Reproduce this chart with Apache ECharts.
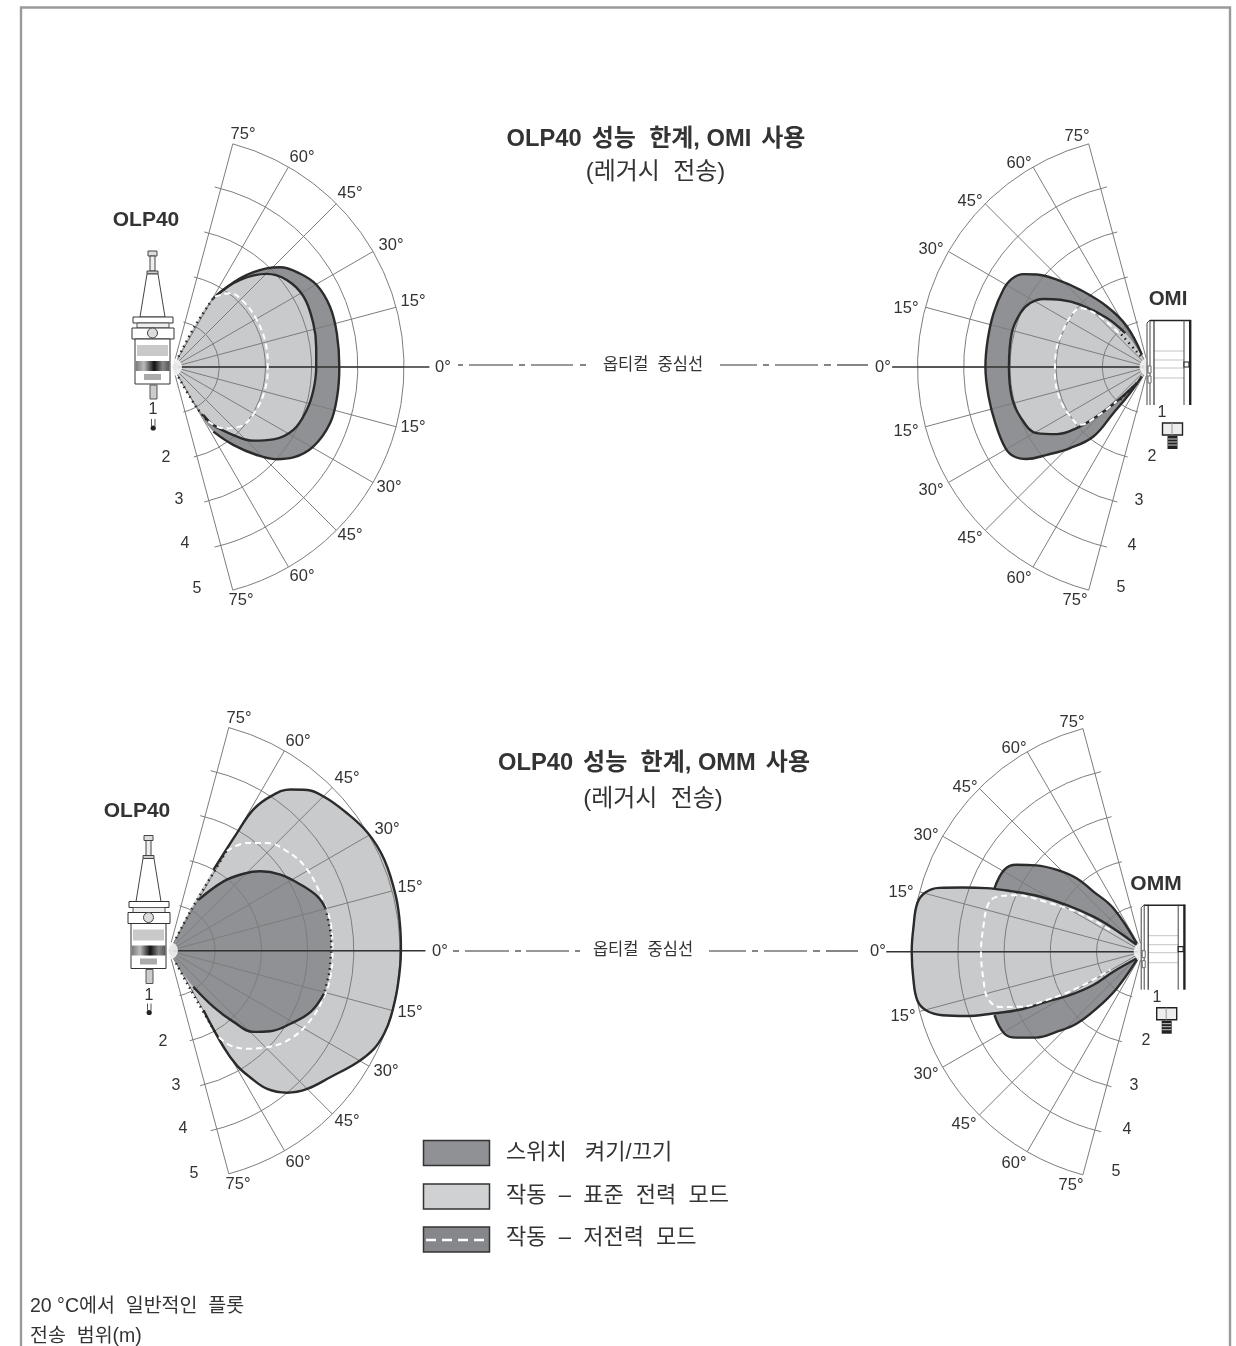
<!DOCTYPE html>
<html><head><meta charset="utf-8">
<style>html,body{margin:0;padding:0;background:#fff}#c{width:1236px;height:1346px}</style>
<script src="https://cdn.jsdelivr.net/npm/echarts@6/dist/echarts.min.js"></script>
</head><body><div id="c"></div>
<script>
// ---- values: [range in m, angle in degrees, + = upper half] ----
const ringLabels = ['1','2','3','4','5'];
const angleLabels = [75,60,45,30,15,15,30,45,60,75];
const angleStep = 15, angleLimit = 75, rangeMax = 5;

const omiLeftSwitch = [[0.2,62],[1.0,62],[1.72,59.6],[2.41,52.9],[2.945,46.5],[3.165,43],[3.41,36.4],[3.58,29.7],[3.64,21],[3.62,11.6],[3.6,0],[3.61,-10.2],[3.61,-19.7],[3.49,-29.6],[3.26,-36.9],[3.0,-41.7],[2.63,-46.4],[2.13,-52.3],[1.65,-58],[1.0,-60],[0.2,-62]];
const omiLeftStd = [[0.2,62],[1.0,62],[1.82,58.8],[2.38,52.4],[2.86,44.8],[3.1,37.4],[3.21,28.4],[3.18,17.3],[3.13,8.1],[3.1,0],[3.08,-9.3],[3.04,-17.8],[2.94,-27.6],[2.68,-35.8],[2.36,-42.5],[1.97,-48.4],[1.53,-55.2],[1.23,-57.7],[0.2,-62]];
const omiLeftLow = [[1.77,59.2],[2.02,52.3],[2.08,42.9],[2.08,29.3],[2.07,14.3],[2.05,0],[2.05,-14],[2.02,-28.6],[1.94,-41.7],[1.72,-50.6],[1.36,-57.6]];
const omiLeftEdges = [[[0.25,62],[1.0,62],[1.77,59.6]],[[0.25,-62],[1.0,-60],[1.36,-57.6]]];

const omiRightSwitch = [[0.3,61.6],[1.0,61.9],[1.59,55.5],[2.23,48.5],[2.74,43.6],[3.14,39.6],[3.37,36.6],[3.52,32.8],[3.56,28.1],[3.55,19.2],[3.53,9.6],[3.53,0],[3.52,-10.4],[3.53,-20],[3.56,-29.5],[3.5,-33.5],[3.3,-37.1],[2.91,-40.8],[2.44,-46],[1.92,-51.6],[1.25,-52.7],[0.69,-54.8],[0.25,-54.5]];
const omiRightStd = [[0.3,60],[0.89,55.5],[1.39,49.6],[2.0,42.4],[2.4,37.3],[2.71,32.9],[2.91,28.4],[3.01,22.8],[3.05,14],[3.02,0],[3.03,-12.1],[2.98,-21],[2.81,-30.6],[2.46,-36.2],[2.04,-40.4],[1.55,-43.7],[1.01,-47.3],[0.43,-53.9]];
const omiRightLow = [[0.98,48.6],[1.95,40.8],[2.01,34.3],[2.01,21.4],[2.03,8.6],[2.03,-3.7],[2.04,-20.3],[2.0,-32.2],[1.94,-40.2],[1.55,-43.7],[1.01,-47.3]];
const omiRightEdges = [[[0.29,54],[0.98,50]],[[0.43,-53.9],[1.01,-49]]];

const ommLeftStd = [[0.31,60.4],[0.99,62.7],[2.0,61.2],[2.94,60],[3.57,59.1],[4.03,56.4],[4.37,53],[4.59,49.3],[4.73,44.8],[4.85,38.6],[5.0,30.7],[5.06,22.9],[5.05,13.4],[5.03,5.9],[5.02,0],[5.01,-9],[5.01,-16.6],[4.99,-21.1],[4.92,-25.5],[4.74,-30.6],[4.44,-38],[4.23,-45],[4.0,-50.2],[3.67,-54.6],[3.26,-57.3],[2.89,-59.4],[2.4,-60.5],[1.49,-59.9],[0.31,-61]];
const ommLeftSwitch = [[0.31,60.4],[1.27,59.9],[1.91,51.8],[2.32,45.9],[2.62,41],[2.92,34.3],[3.19,26.6],[3.42,20.1],[3.51,15.2],[3.52,6.1],[3.51,0],[3.5,-8.1],[3.48,-15.5],[3.34,-23.4],[3.07,-31],[2.8,-38.5],[2.54,-43.8],[2.08,-47.8],[1.55,-51.6],[0.94,-56],[0.31,-61]];
const ommLeftLow = [[2.49,59.8],[2.88,54.1],[3.15,47.7],[3.34,40.1],[3.47,30.4],[3.51,17],[3.55,8.4],[3.54,0],[3.54,-9.2],[3.5,-16.6],[3.41,-26.2],[3.25,-35.9],[2.98,-44.5],[2.71,-51.5],[2.44,-57.1],[2.11,-60.5]];
const ommLeftEdges = [[[0.31,60.4],[1.0,61.5],[2.49,60]],[[0.31,-61],[1.0,-61],[2.11,-60.5]]];

const ommRightSwitch = [[0.22,54],[1.14,55.9],[1.69,50.6],[2.14,48],[2.58,43.5],[2.97,39],[3.32,34.5],[3.48,30.7],[3.49,23.2],[3.3,0],[3.49,-23.2],[3.48,-30.7],[3.31,-34.2],[2.96,-38.9],[2.55,-42.9],[2.12,-47.4],[1.59,-50.9],[0.98,-54.7],[0.22,-54]];
const ommRightStd = [[0.2,48],[0.81,38.5],[1.31,35.4],[1.94,31.5],[2.53,28.2],[3.1,24.9],[3.66,22.1],[4.14,19.6],[4.62,17.4],[4.87,15.3],[4.99,12.2],[4.99,6.2],[5,0],[5,-7.1],[4.99,-12.2],[4.86,-15.1],[4.55,-17.6],[4.07,-20],[3.51,-22.4],[2.95,-25.2],[2.35,-27.5],[1.84,-30.8],[1.29,-34],[0.77,-34.3],[0.2,-48]];
const ommRightLow = [[0.85,33.6],[1.6,31.4],[2.35,27.2],[3.0,24],[3.39,20.4],[3.5,16.8],[3.49,9],[3.5,0],[3.5,-10.1],[3.5,-16.8],[3.32,-21.1],[2.92,-24.1],[2.34,-26.7],[1.56,-29.2],[0.8,-29]];

const titleTop = ['OLP40','성능  한계',', OMI','사용','(레거시  전송)'];
const titleBottom = ['OLP40','성능  한계',', OMM','사용','(레거시  전송)'];
const legendLabels = ['스위치   켜기/끄기','작동  –  표준  전력  모드','작동  –  저전력  모드'];
const centerLineLabel = '옵티컬  중심선';
const footerLines = ['20 °C에서  일반적인  플롯','전송  범위(m)'];

// ---- styles and layout ----
const FONT = '"Liberation Sans","Noto Sans CJK KR",sans-serif';
const DARK = '#8f9195', LIGHT = '#c8cacc', INK = '#2b2b2b', GRID = '#7d7d7d', TXT = '#333';
const UNIT = 46.2, DATA_MAX = 6;
const charts = [
  {c:[173,367], right:false},
  {c:[1148.5,367], right:true},
  {c:[169,950.7], right:false},
  {c:[1142.7,951.7], right:true}
];

const polar = [], angleAxis = [], radiusAxis = [], series = [];
const bare = {axisLine:{show:false}, axisTick:{show:false}, axisLabel:{show:false}};
charts.forEach((ch,i)=>{
  const [sa,ea] = ch.right ? [180-angleLimit,180+angleLimit] : [angleLimit,-angleLimit];
  const [sb,eb] = ch.right ? [180-77,180+77] : [77,-77];
  const cw = !ch.right;
  // 3i: spokes + outer ring
  polar.push({center:ch.c, radius:UNIT*rangeMax});
  angleAxis.push({polarIndex:3*i, type:'value', min:-angleLimit, max:angleLimit, interval:angleStep,
    startAngle:sa, endAngle:ea, clockwise:cw, z:3, ...bare,
    splitLine:{show:true, lineStyle:{color:GRID,width:1}}});
  radiusAxis.push({polarIndex:3*i, type:'value', min:0, max:rangeMax, interval:rangeMax, z:3, ...bare,
    splitLine:{show:true, lineStyle:{color:GRID,width:1}}});
  // 3i+1: inner rings, overshooting the last spoke a little
  polar.push({center:ch.c, radius:UNIT*(rangeMax-1)});
  angleAxis.push({polarIndex:3*i+1, type:'value', min:-77, max:77, interval:154,
    startAngle:sb, endAngle:eb, clockwise:cw, z:3, ...bare, splitLine:{show:false}});
  radiusAxis.push({polarIndex:3*i+1, type:'value', min:0, max:rangeMax-1, interval:1, z:3, ...bare,
    splitLine:{show:true, lineStyle:{color:GRID,width:1}}});
  // 3i+2: same scale, room for the data beyond 5 m
  polar.push({center:ch.c, radius:UNIT*DATA_MAX});
  angleAxis.push({polarIndex:3*i+2, type:'value', min:-angleLimit, max:angleLimit, interval:150,
    startAngle:sa, endAngle:ea, clockwise:cw, z:0, ...bare, splitLine:{show:false}});
  radiusAxis.push({polarIndex:3*i+2, type:'value', min:0, max:DATA_MAX, interval:DATA_MAX, z:0, ...bare, splitLine:{show:false}});
});

const toPolar = d => d.map(([r,a])=>[r,-a]);
const P = i => 3*i+2;
const base = (p,d)=>({type:'line', coordinateSystem:'polar', polarIndex:P(p), data:toPolar(d),
  showSymbol:false, symbol:'none', clip:false, silent:true, animation:false, smooth:0.4});
function fill(p,d,color,z=1){ series.push({...base(p,d), z, lineStyle:{width:0,opacity:0}, areaStyle:{color,opacity:1}}); }
function stroke(p,d,w=2.4,z=4){ series.push({...base(p,d), z, lineStyle:{color:INK,width:w}}); }
function low(p,d,z=4){ series.push({...base(p,d), z, lineStyle:{color:'#fff',width:2,type:[6,4]}}); }
function dots(p,d,z=4){ series.push({...base(p,d), smooth:0.2, z, lineStyle:{color:'#222',width:2.4,type:[1.5,4]}}); }
function axisZero(p){ series.push({...base(p,[[0.1,0],[5.55,0]]), smooth:false, z:4, lineStyle:{color:'#333',width:1.4}}); }
function hub(p){ series.push({type:'scatter',coordinateSystem:'polar',polarIndex:P(p),data:[[0,0]],symbolSize:18,clip:false,silent:true,animation:false,z:5,itemStyle:{color:'#fff'}}); }

// top-left
fill(0,omiLeftSwitch,DARK); fill(0,omiLeftStd,LIGHT);
axisZero(0);
stroke(0,omiLeftSwitch.slice(2,19)); stroke(0,omiLeftStd.slice(2,18));
low(0,omiLeftLow); omiLeftEdges.forEach(e=>dots(0,e)); hub(0);
// top-right
fill(1,omiRightSwitch,DARK); fill(1,omiRightStd,LIGHT);
axisZero(1);
stroke(1,omiRightSwitch); stroke(1,omiRightStd.slice(1));
low(1,omiRightLow); omiRightEdges.forEach(e=>dots(1,e)); hub(1);
// bottom-left
fill(2,ommLeftStd,LIGHT); fill(2,ommLeftSwitch,DARK);
axisZero(2);
stroke(2,ommLeftStd.slice(2,28));
low(2,ommLeftLow);
stroke(2,ommLeftSwitch.slice(1,9)); stroke(2,ommLeftSwitch.slice(12,20));
dots(2,ommLeftSwitch.slice(8,13)); ommLeftEdges.forEach(e=>dots(2,e)); hub(2);
// bottom-right
fill(3,ommRightSwitch,DARK); fill(3,ommRightStd,LIGHT);
axisZero(3);
stroke(3,ommRightSwitch.slice(0,9)); stroke(3,ommRightSwitch.slice(10));
stroke(3,ommRightStd);
low(3,ommRightLow); hub(3);

// ---- decoration: instruments, labels, legend, frame ----
const g = [];
const rect=(x,y,w,h,fill='#fff',st='#333',lw=1)=>g.push({type:'rect',z:10,silent:true,shape:{x,y,width:w,height:h},style:{fill,stroke:st,lineWidth:lw}});
const line=(x1,y1,x2,y2,st='#333',lw=1)=>g.push({type:'line',z:10,silent:true,shape:{x1,y1,x2,y2},style:{stroke:st,lineWidth:lw}});
const text=(t,x,y,size=15,opt={})=>g.push({type:'text',z:10,silent:true,x,y,style:{text:t,fill:opt.fill||TXT,font:`${opt.weight||'normal'} ${size}px ${FONT}`,align:opt.align||'center',verticalAlign:'middle'}});
const poly=(pts,fill='#fff',st='#333',lw=1)=>g.push({type:'polygon',z:10,silent:true,shape:{points:pts},style:{fill,stroke:st,lineWidth:lw}});

function tool(dx,dy){
  const X=x=>x+dx, Y=y=>y+dy;
  rect(X(148),Y(251),9,5,'#ddd','#444'); rect(X(150),Y(256),5,15,'#eee','#444');
  rect(X(147),Y(271),11,3,'#ccc','#444');
  poly([[X(147),Y(274)],[X(158),Y(274)],[X(165),Y(317)],[X(140),Y(317)]],'#fff','#444');
  rect(X(133),Y(317),40,6,'#fff','#333'); rect(X(137),Y(323),32,5,'#eee','#555');
  rect(X(132),Y(328),42,11,'#fff','#333');
  g.push({type:'circle',z:10,silent:true,shape:{cx:X(152.5),cy:Y(333),r:5},style:{fill:'#ddd',stroke:'#444',lineWidth:1}});
  rect(X(135),Y(339),35,45,'#fff','#333');
  rect(X(137),Y(345),31,11,'#c9c9c9','transparent',0);
  g.push({type:'rect',z:10,silent:true,shape:{x:X(135.5),y:Y(361),width:34,height:10},style:{fill:{type:'linear',x:0,y:0,x2:1,y2:0,colorStops:[{offset:0,color:'#777'},{offset:.25,color:'#bbb'},{offset:.55,color:'#111'},{offset:.8,color:'#888'},{offset:1,color:'#555'}]}}});
  rect(X(144),Y(374),17,6,'#aaa','transparent',0);
  rect(X(150),Y(385),7,14,'#ccc','#555'); 
  line(X(151.5),Y(419),X(151.5),Y(426),'#555',1); line(X(155),Y(419),X(155),Y(426),'#555',1);
  g.push({type:'circle',z:10,silent:true,shape:{cx:X(153.2),cy:Y(428),r:2.6},style:{fill:'#222'}});
}
function station(dx,dy){
  const X=x=>x+dx, Y=y=>y+dy;
  [351,360,368,378].forEach(y=>line(X(1154),Y(y),X(1184),Y(y),'#c4c4c4',1));
  line(X(1147),Y(323),X(1147),Y(405),'#444',1); line(X(1150),Y(320),X(1150),Y(405),'#444',1); line(X(1154),Y(320),X(1154),Y(405),'#333',1.2);
  line(X(1147),Y(323),X(1150),Y(320),'#444',1);
  line(X(1150),Y(320.5),X(1191),Y(320.5),'#222',1.6);
  line(X(1184),Y(320),X(1184),Y(405),'#444',1); rect(X(1189),Y(320),2.4,85,'#222','transparent',0);
  rect(X(1184),Y(362),5,5,'#fff','#222',1.2);
  rect(X(1148),Y(366),3,7,'#fff','#666',1); rect(X(1148),Y(376),3,7,'#fff','#666',1);
  rect(X(1162.5),Y(423),20,12,'#eee','#222',1.4); line(X(1172),Y(423),X(1172),Y(435),'#999',1);
  rect(X(1167.5),Y(436),10,13,'#222','transparent',0);
  [439,442,445].forEach(y=>line(X(1168),Y(y),X(1177),Y(y),'#ccc',1));
}
tool(0,0); tool(-4,584.5); station(0,0); station(-5.8,584.7);

// ring numbers
[[[153,410],[166,458],[179,500],[185,544],[197,589]],
 [[1162,413],[1152,457],[1139,501],[1132,546],[1121,588]],
 [[149,996],[163,1042],[176,1086],[183,1129],[194,1174]],
 [[1157,998],[1146,1041],[1134,1086],[1127,1130],[1116,1172]]].forEach(set=>set.forEach((p,i)=>text(ringLabels[i],p[0],p[1],16)));
// angle labels
[[[243,134],[302,157],[350,193],[391,245],[413,301],[413,427],[389,487],[350,535],[302,576],[241,600]],
 [[1077,136],[1019,163],[970,201],[931,249],[906,308],[906,431],[931,490],[970,538],[1019,578],[1075,600]],
 [[239,718],[298,741],[347,778],[387,829],[410,887],[410,1012],[386,1071],[347,1121],[298,1162],[238,1184]],
 [[1072,722],[1014,748],[965,787],[926,835],[901,892],[903,1016],[926,1074],[964,1124],[1014,1163],[1071,1185]]]
 .forEach(set=>set.forEach((p,i)=>text(angleLabels[i]+'°',p[0],p[1],16.5)));
[[443,367],[883,367],[440,951],[878,951]].forEach(p=>text('0°',p[0],p[1],16.5));

text('OLP40',146,220,21,{weight:'bold'}); text('OLP40',137,811,21,{weight:'bold'});
text('OMI',1168,299,20.5,{weight:'bold'}); text('OMM',1156,884,21,{weight:'bold'});

// optical centre lines
[[365,0,[[458,463],[469,513],[519,525],[531,573],[580,586],[720,757],[763,769],[775,818],[824,831],[837,868]]],
 [951,0,[[453,459],[465,509],[515,521],[526,569],[575,580],[709,746],[752,758],[764,807],[813,820],[826,858]]]]
 .forEach(([y,,segs])=>segs.forEach(s=>line(s[0],y,s[1],y,'#333',1.2)));
text(centerLineLabel,653,365,16.5); text(centerLineLabel,643,950,16.5);

// legend
rect(423.5,1140.5,66,25,DARK,'#333',1.5);
rect(423.5,1184,66,25,'#cfd1d3','#333',1.5);
rect(423.5,1227,66,25,'#85878b','#333',1.5);
g.push({type:'line',z:11,silent:true,shape:{x1:426,y1:1240,x2:488,y2:1240},style:{stroke:'#fff',lineWidth:2.4,lineDash:[10,6]}});
text(legendLabels[0],506,1153,22,{align:'left'});
text(legendLabels[1],506,1196,22,{align:'left'});
text(legendLabels[2],506,1238,22,{align:'left'});

text(footerLines[0],30,1307,19.5,{align:'left'});
text(footerLines[1],30,1337,19.5,{align:'left'});

// frame
g.push({type:'polyline',z:10,silent:true,shape:{points:[[21,1346],[21,7.5],[1230,7.5],[1230,1346]]},style:{fill:'none',stroke:'#9a9a9a',lineWidth:2.4}});

const rich = {b:{fontFamily:FONT,fontWeight:'bold',fontSize:23.7,color:TXT},k:{fontFamily:FONT,fontSize:24,color:TXT}};
const ttl=(t,x,x2,y,y2)=>[
  {left:x,top:y,textAlign:'center',text:`{b|${t[0]}}  {k|${t[1]}}{b|${t[2]}}  {k|${t[3]}}`,textStyle:{rich}},
  {left:x2,top:y2,textAlign:'center',text:t[4],textStyle:{fontFamily:FONT,fontSize:24,fontWeight:'normal',color:TXT}}
];

const chart = echarts.init(document.getElementById('c'),null,{renderer:'canvas'});
chart.setOption({backgroundColor:'#fff',animation:false,
  title:[...ttl(titleTop,651,650.5,122,155),...ttl(titleBottom,649,648,746,782)],
  polar,angleAxis,radiusAxis,series,graphic:{elements:g}});
</script></body></html>
